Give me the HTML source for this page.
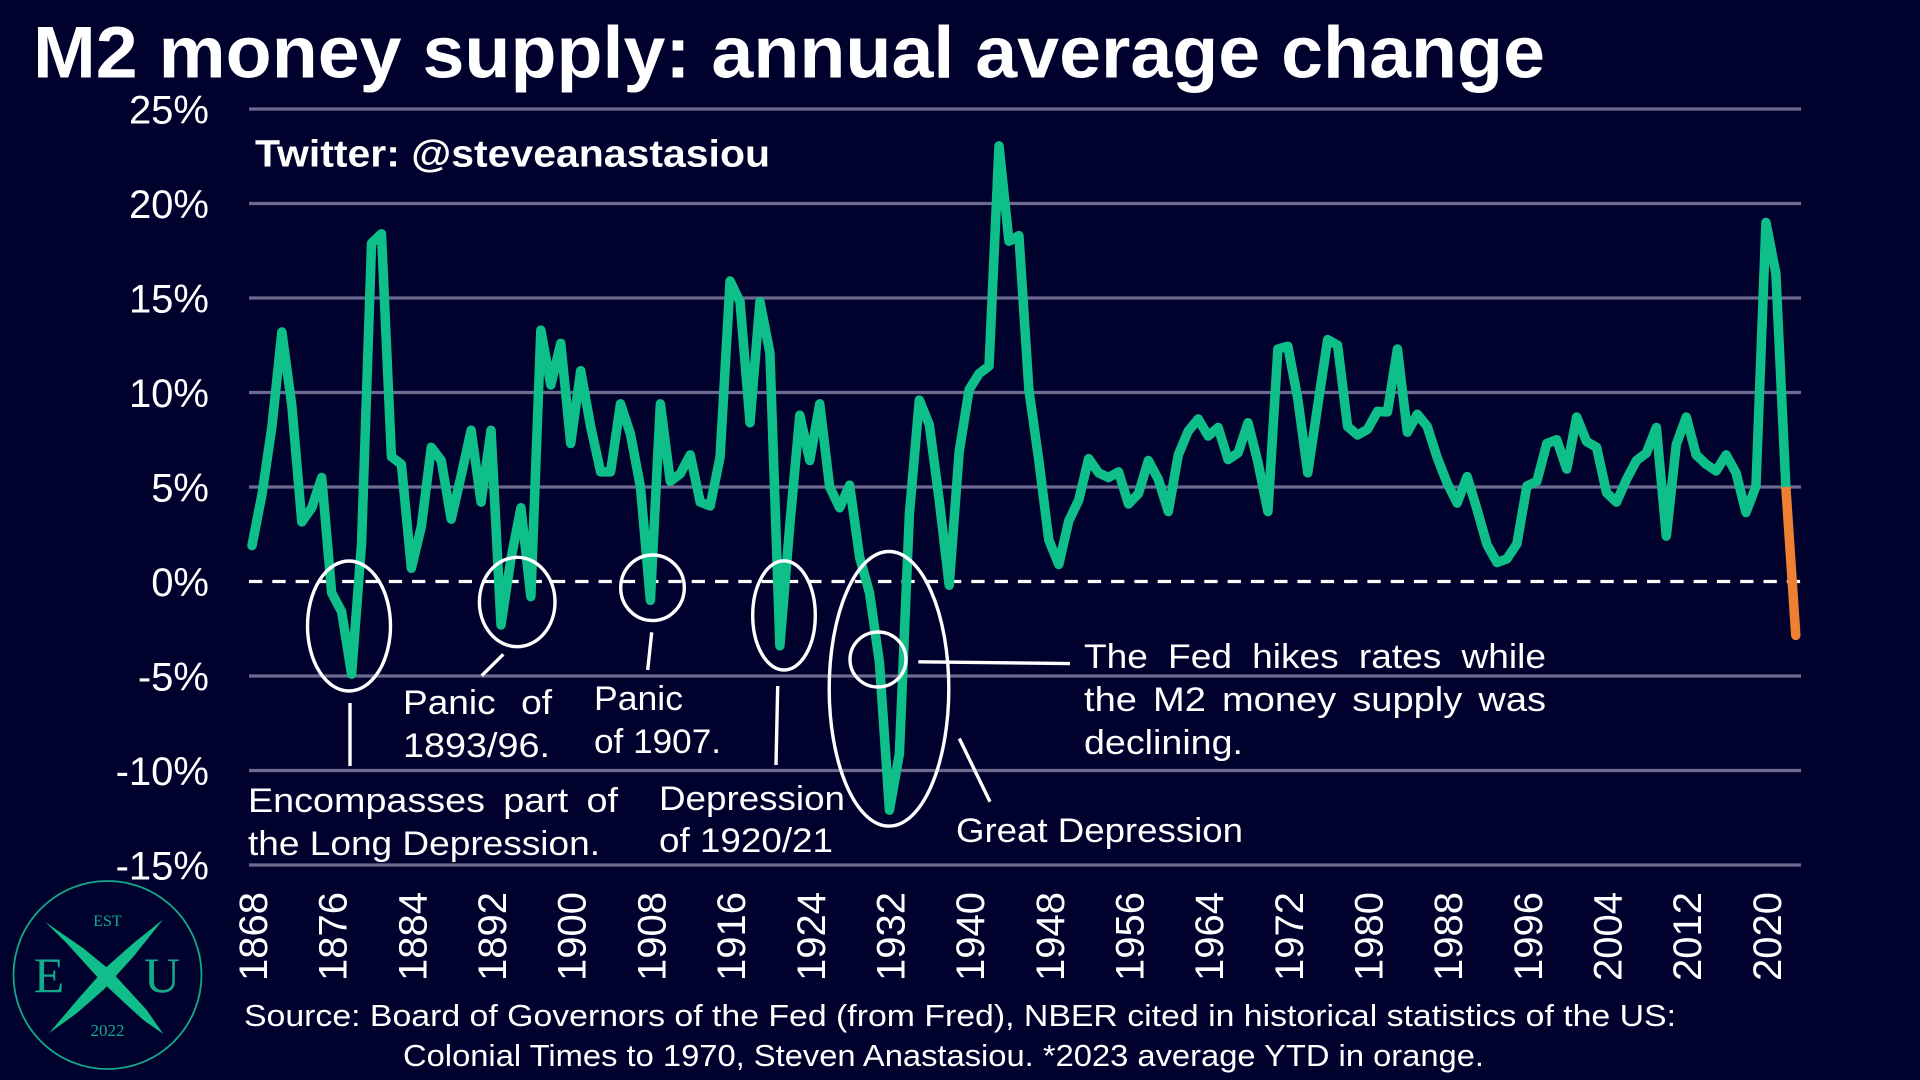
<!DOCTYPE html>
<html lang="en">
<head>
<meta charset="utf-8">
<title>M2 money supply: annual average change</title>
<style>
  html, body { margin: 0; padding: 0; background: #00012c; }
  svg { display: block; }
  text { font-family: "Liberation Sans", sans-serif; fill: #ffffff; }
  .note { font-size: 34px; }
  .ann { fill: none; stroke: #ffffff; stroke-width: 3.4; }
  .lead { stroke: #ffffff; stroke-width: 3.4; fill: none; }
  .logo-t { font-family: "Liberation Serif", serif; fill: #14a98a; }
</style>
</head>
<body>
<svg id="chart" xmlns="http://www.w3.org/2000/svg" width="1920" height="1080" viewBox="0 0 1920 1080">
  <rect x="0" y="0" width="1920" height="1080" fill="#00012c"/>

  <text x="33" y="77.5" font-size="73" font-weight="700" textLength="1512" lengthAdjust="spacingAndGlyphs">M2 money supply: annual average change</text>

  <g id="grid"></g>
  <g id="yAxis"></g>
  <g id="xAxis"></g>
  <g id="series"></g>

  <text x="255" y="166.5" font-size="38" font-weight="700" textLength="515" lengthAdjust="spacingAndGlyphs">Twitter: @steveanastasiou</text>

  <ellipse class="ann" cx="349" cy="626" rx="41.5" ry="65"/>
  <ellipse class="ann" cx="517.2" cy="602" rx="37.8" ry="44.7"/>
  <ellipse class="ann" cx="652.5" cy="587.8" rx="31.8" ry="32.8"/>
  <ellipse class="ann" cx="784" cy="615.4" rx="31.3" ry="54.6"/>
  <ellipse class="ann" cx="889" cy="688.8" rx="59.8" ry="137.3"/>
  <ellipse class="ann" cx="878" cy="659.5" rx="28" ry="27.5"/>

  <line class="lead" x1="350" y1="703" x2="350" y2="766"/>
  <line class="lead" x1="503.3" y1="654.3" x2="481.7" y2="675.7"/>
  <line class="lead" x1="651.7" y1="632.3" x2="647.7" y2="670"/>
  <line class="lead" x1="777.7" y1="686" x2="776" y2="765"/>
  <line class="lead" x1="918.3" y1="661.8" x2="1070" y2="663.6"/>
  <line class="lead" x1="959.3" y1="738.5" x2="990" y2="801.8"/>

  <text class="note" x="403" y="714" style="word-spacing:14px" textLength="149" lengthAdjust="spacingAndGlyphs">Panic of</text>
  <text class="note" x="403" y="757" textLength="147" lengthAdjust="spacingAndGlyphs">1893/96.</text>
  <text class="note" x="594" y="710" textLength="89" lengthAdjust="spacingAndGlyphs">Panic</text>
  <text class="note" x="594" y="753" textLength="127" lengthAdjust="spacingAndGlyphs">of 1907.</text>
  <text class="note" x="248" y="812" style="word-spacing:7px" textLength="370" lengthAdjust="spacingAndGlyphs">Encompasses part of</text>
  <text class="note" x="248" y="855" textLength="352" lengthAdjust="spacingAndGlyphs">the Long Depression.</text>
  <text class="note" x="659" y="810" textLength="186" lengthAdjust="spacingAndGlyphs">Depression</text>
  <text class="note" x="659" y="852" textLength="174" lengthAdjust="spacingAndGlyphs">of 1920/21</text>
  <text class="note" x="956" y="842" textLength="287" lengthAdjust="spacingAndGlyphs">Great Depression</text>
  <text class="note" x="1084" y="668" style="word-spacing:9px" textLength="462" lengthAdjust="spacingAndGlyphs">The Fed hikes rates while</text>
  <text class="note" x="1084" y="711" style="word-spacing:5px" textLength="462" lengthAdjust="spacingAndGlyphs">the M2 money supply was</text>
  <text class="note" x="1084" y="754" textLength="159" lengthAdjust="spacingAndGlyphs">declining.</text>

  <text x="244" y="1026" font-size="31" textLength="1432" lengthAdjust="spacingAndGlyphs">Source: Board of Governors of the Fed (from Fred), NBER cited in historical statistics of the US:</text>
  <text x="403" y="1066" font-size="31" textLength="1081" lengthAdjust="spacingAndGlyphs">Colonial Times to 1970, Steven Anastasiou. *2023 average YTD in orange.</text>

  <g>
    <circle cx="107.5" cy="975" r="94" fill="none" stroke="#14a98a" stroke-width="1.8"/>
    <polygon points="45,921.7 83.3,948.3 110,970 146.7,1010 163.3,1034 143.3,1020 123.3,1001.7 100,980 66.7,943.3" fill="#10bd8b"/>
    <polygon points="163.3,919.3 133.3,943.3 106.7,966.7 80,996.7 49,1033.3 76.7,1013.3 103.3,990 133.3,956.7" fill="#10bd8b"/>
    <text class="logo-t" x="107.5" y="926" font-size="16" text-anchor="middle">EST</text>
    <text class="logo-t" x="49" y="992" font-size="50" text-anchor="middle">E</text>
    <text class="logo-t" x="162" y="992" font-size="50" text-anchor="middle">U</text>
    <text class="logo-t" x="107.5" y="1036" font-size="17" text-anchor="middle">2022</text>
  </g>
</svg>

<script>
const years = [
  1868,1869,1870,1871,1872,1873,1874,1875,1876,1877,
  1878,1879,1880,1881,1882,1883,1884,1885,1886,1887,
  1888,1889,1890,1891,1892,1893,1894,1895,1896,1897,
  1898,1899,1900,1901,1902,1903,1904,1905,1906,1907,
  1908,1909,1910,1911,1912,1913,1914,1915,1916,1917,
  1918,1919,1920,1921,1922,1923,1924,1925,1926,1927,
  1928,1929,1930,1931,1932,1933,1934,1935,1936,1937,
  1938,1939,1940,1941,1942,1943,1944,1945,1946,1947,
  1948,1949,1950,1951,1952,1953,1954,1955,1956,1957,
  1958,1959,1960,1961,1962,1963,1964,1965,1966,1967,
  1968,1969,1970,1971,1972,1973,1974,1975,1976,1977,
  1978,1979,1980,1981,1982,1983,1984,1985,1986,1987,
  1988,1989,1990,1991,1992,1993,1994,1995,1996,1997,
  1998,1999,2000,2001,2002,2003,2004,2005,2006,2007,
  2008,2009,2010,2011,2012,2013,2014,2015,2016,2017,
  2018,2019,2020,2021,2022,2023
];
const m2Change = [
  1.9,4.6,8.2,13.2,9.3,3.15,3.9,5.5,-0.6,-1.6,
  -4.9,2.0,17.9,18.4,6.6,6.2,0.7,2.9,7.1,6.4,
  3.3,5.6,8.0,4.2,8.0,-2.3,1.2,3.9,-0.8,13.3,
  10.4,12.6,7.3,11.15,8.2,5.8,5.8,9.4,7.8,5.0,
  -1.0,9.4,5.3,5.7,6.7,4.2,4.0,6.6,15.9,14.8,
  8.4,14.8,12.1,-3.4,3.0,8.8,6.4,9.4,5.0,3.9,
  5.1,1.3,-0.6,-4.3,-12.1,-9.1,3.55,9.6,8.3,4.3,
  -0.2,6.85,10.15,11.0,11.4,23.05,18.0,18.3,10.15,6.4,
  2.2,0.9,3.2,4.3,6.5,5.75,5.5,5.8,4.1,4.65,
  6.4,5.4,3.7,6.7,7.96,8.6,7.7,8.15,6.45,6.8,
  8.4,6.3,3.7,12.3,12.45,9.65,5.75,9.3,12.8,12.5,
  8.2,7.75,8.05,9.0,8.97,12.3,7.9,8.85,8.2,6.55,
  5.2,4.15,5.55,3.8,1.95,1.0,1.2,2.0,5.05,5.3,
  7.3,7.5,5.95,8.7,7.4,7.1,4.7,4.2,5.4,6.4,
  6.8,8.15,2.4,7.25,8.7,6.7,6.2,5.85,6.7,5.75,
  3.65,5.05,19.0,16.3,5.0
];
const ytdYears = [2022, 2023];
const ytdChange = [5.0, -2.85];
const yTicks = [25, 20, 15, 10, 5, 0, -5, -10, -15];
const xTickYears = [1868,1876,1884,1892,1900,1908,1916,1924,1932,1940,1948,1956,1964,1972,1980,1988,1996,2004,2012,2020];

const SVG_NS = 'http://www.w3.org/2000/svg';
const gridLeft = 249;
const gridRight = 1801;
function xScale(year) { return 252 + (year - 1868) * 9.96; }
function yScale(value) { return 581.5 - value * 18.9; }

function linePath(xs, ys) {
  return xs.map(function (yr, i) {
    return (i ? 'L' : 'M') + xScale(yr).toFixed(2) + ' ' + yScale(ys[i]).toFixed(2);
  }).join(' ');
}

const grid = document.getElementById('grid');
const yAxis = document.getElementById('yAxis');
const xAxis = document.getElementById('xAxis');
const series = document.getElementById('series');

yTicks.forEach(function (tick) {
  const y = yScale(tick);
  const gl = document.createElementNS(SVG_NS, 'line');
  
  
  gl.setAttribute('x1', gridLeft);
  gl.setAttribute('x2', gridRight);
  gl.setAttribute('y1', y);
  gl.setAttribute('y2', y);
  gl.setAttribute('stroke', tick === 0 ? '#ffffff' : '#6c6a8e');
  gl.setAttribute('stroke-width', '3.2');
  if (tick === 0) gl.setAttribute('stroke-dasharray', '13.3 10');
  grid.appendChild(gl);

  const lb = document.createElementNS(SVG_NS, 'text');
  
  
  lb.setAttribute('x', 209);
  lb.setAttribute('y', y + 14.5);
  lb.setAttribute('font-size', '40');
  lb.setAttribute('text-anchor', 'end');
  lb.textContent = tick + '%';
  yAxis.appendChild(lb);
});

xTickYears.forEach(function (yr) {
  const x = xScale(yr) + 15;
  const lb = document.createElementNS(SVG_NS, 'text');
  
  
  lb.setAttribute('transform', 'translate(' + x + ' 981) rotate(-90)');
  lb.setAttribute('font-size', '40');
  lb.textContent = yr;
  xAxis.appendChild(lb);
});

const greenLine = document.createElementNS(SVG_NS, 'path');


greenLine.setAttribute('d', linePath(years.slice(0, m2Change.length), m2Change));
greenLine.setAttribute('fill', 'none');
greenLine.setAttribute('stroke', '#0fbf8a');
greenLine.setAttribute('stroke-width', '9.5');
greenLine.setAttribute('stroke-linecap', 'round');
greenLine.setAttribute('stroke-linejoin', 'round');
series.appendChild(greenLine);

const orangeLine = document.createElementNS(SVG_NS, 'path');


orangeLine.setAttribute('d', linePath(ytdYears, ytdChange));
orangeLine.setAttribute('fill', 'none');
orangeLine.setAttribute('stroke', '#ee7f33');
orangeLine.setAttribute('stroke-width', '9.5');
series.appendChild(orangeLine);

const orangeEnd = document.createElementNS(SVG_NS, 'circle');


orangeEnd.setAttribute('cx', xScale(ytdYears[ytdYears.length - 1]));
orangeEnd.setAttribute('cy', yScale(ytdChange[ytdChange.length - 1]));
orangeEnd.setAttribute('r', '4.75');
orangeEnd.setAttribute('fill', '#ee7f33');
series.appendChild(orangeEnd);
</script>
</body>
</html>
